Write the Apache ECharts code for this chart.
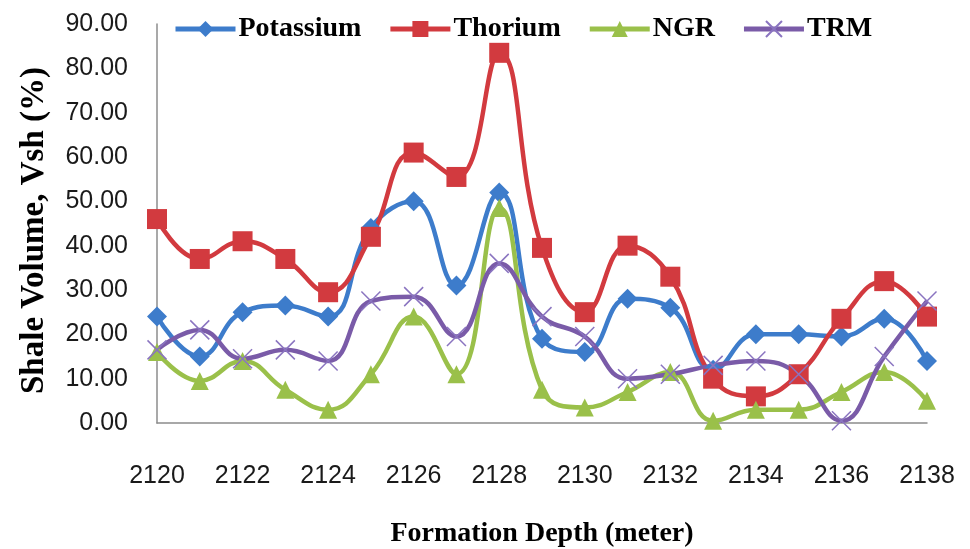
<!DOCTYPE html>
<html>
<head>
<meta charset="utf-8">
<title>Shale Volume vs Formation Depth</title>
<script src="https://cdn.jsdelivr.net/npm/echarts@6/dist/echarts.min.js"></script>
<style>
  html, body { margin: 0; padding: 0; background: #ffffff; }
  #chart { width: 970px; height: 549px; }
</style>
</head>
<body>
<div id="chart"></div>
<script>
// Formation depth (meter)
var depths = ['2120','2121','2122','2123','2124','2125','2126','2127','2128','2129',
              '2130','2131','2132','2133','2134','2135','2136','2137','2138'];

// Shale volume Vsh (%) by method
var potassium = [24, 15, 25, 26.5, 24, 44, 50, 31, 52, 19, 16, 28, 26, 12, 20, 20, 19.5, 23.5, 14];
var thorium   = [46, 37, 41, 37, 29.5, 42, 61, 55.5, 83.5, 39.5, 25, 40, 33, 10, 6, 11, 23.5, 32, 24];
var ngr       = [16, 9.5, 14, 7.5, 3, 11, 24, 11, 48.5, 7.5, 3.5, 7, 11.5, 0.5, 3, 3, 7, 11.5, 5];
var trm       = [16.5, 21, 14.5, 16.5, 14, 27.5, 28.5, 19.5, 36, 24, 19.5, 10, 11, 13, 14, 11, 0.5, 15, 27.5];

var yTicks = { min: 0, max: 90, interval: 10 };

var crossPath = 'path://M0,0L10,10M10,0L0,10';

var chart = echarts.init(document.getElementById('chart'), null, { renderer: 'canvas' });

function lineSeries(name, data, color, symbol, size, extra) {
  var s = {
    name: name,
    type: 'line',
    data: data,
    smooth: 0.45,
    symbol: symbol,
    symbolSize: size,
    lineStyle: { color: color, width: 4.5 },
    itemStyle: { color: color },
    emphasis: { disabled: true }
  };
  if (extra) { for (var k in extra) { s[k] = extra[k]; } }
  return s;
}

chart.setOption({
  animation: false,
  backgroundColor: '#ffffff',
  grid: { left: 157, right: 43, top: 24, bottom: 126, containLabel: false, outerBoundsMode: 'none' },
  legend: {
    top: 15,
    left: 173,
    padding: 0,
    itemWidth: 60,
    itemHeight: 20,
    itemGap: 26.5,
    lineStyle: { width: 5 },
    textStyle: {
      fontFamily: 'Liberation Serif',
      fontWeight: 'bold',
      fontSize: 28,
      color: '#000000',
      padding: [0, 0, 0, -2]
    },
    data: ['Potassium', 'Thorium', 'NGR', 'TRM']
  },
  xAxis: {
    type: 'category',
    data: depths,
    boundaryGap: false,
    name: 'Formation Depth (meter)',
    nameLocation: 'middle',
    nameGap: 97,
    nameTextStyle: {
      fontFamily: 'Liberation Serif',
      fontWeight: 'bold',
      fontSize: 28,
      color: '#000000'
    },
    axisLine: { show: true, lineStyle: { color: '#8c8c8c', width: 1.5 } },
    axisTick: { show: false },
    axisLabel: {
      interval: 1,
      margin: 41,
      fontFamily: 'Liberation Sans',
      fontSize: 25,
      color: '#1a1a1a'
    },
    splitLine: { show: false }
  },
  yAxis: {
    type: 'value',
    min: yTicks.min,
    max: yTicks.max,
    interval: yTicks.interval,
    name: 'Shale Volume, Vsh (%)',
    nameLocation: 'middle',
    nameRotate: 90,
    nameGap: 106,
    nameTextStyle: {
      fontFamily: 'Liberation Serif',
      fontWeight: 'bold',
      fontSize: 33,
      color: '#000000',
      padding: [0, 14, 0, 0]
    },
    axisLine: { show: true, lineStyle: { color: '#8c8c8c', width: 1.5 } },
    axisTick: { show: false },
    axisLabel: {
      margin: 29,
      fontFamily: 'Liberation Sans',
      fontSize: 25,
      color: '#1a1a1a',
      padding: [3, 0, 0, 0],
      formatter: function (v) { return v.toFixed(2); }
    },
    splitLine: { show: false }
  },
  series: [
    lineSeries('Potassium', potassium, '#3D7CCB', 'diamond', 20),
    lineSeries('Thorium', thorium, '#D23A3F', 'rect', 20),
    lineSeries('NGR', ngr, '#9AC04A', 'triangle', 18),
    lineSeries('TRM', trm, '#7A5BA8', crossPath, 19, {
      itemStyle: { color: 'rgba(0,0,0,0)', borderColor: '#8A74C0', borderWidth: 1.5 }
    })
  ]
});
</script>
</body>
</html>
